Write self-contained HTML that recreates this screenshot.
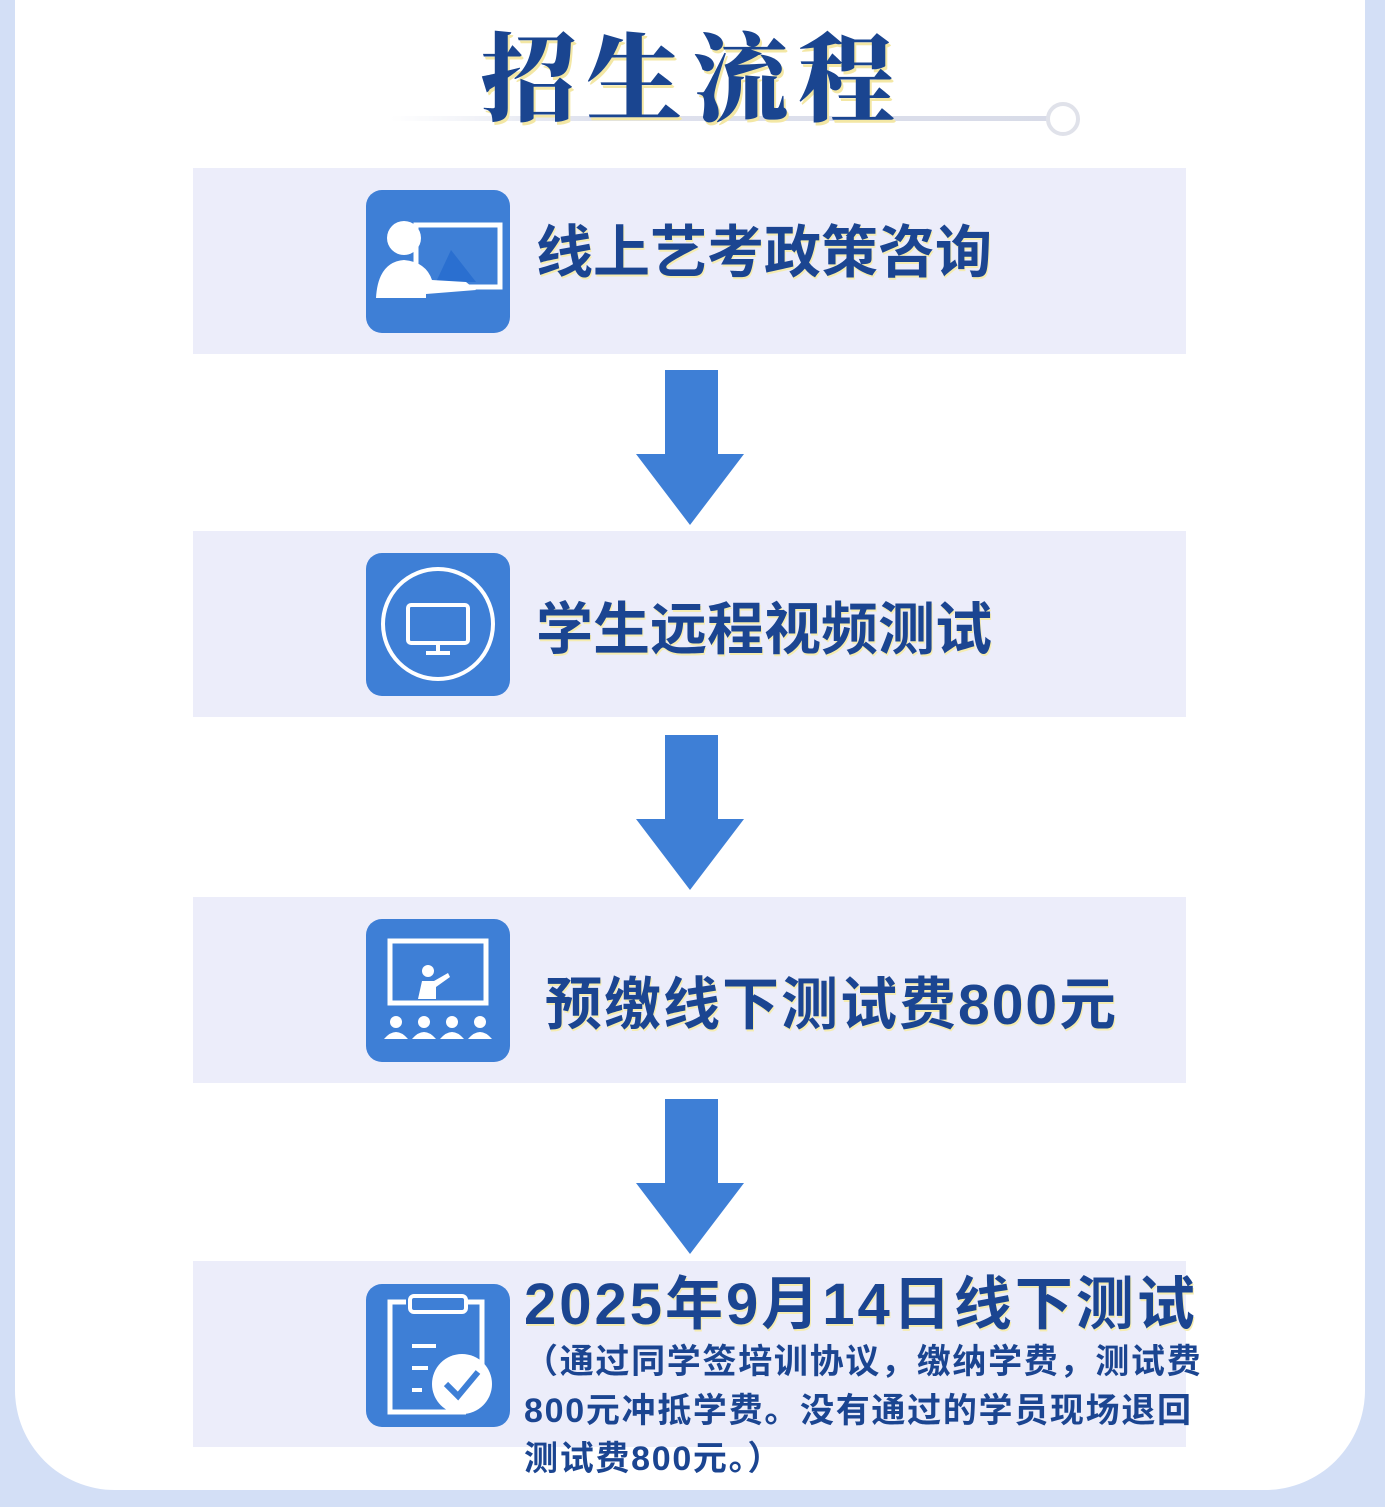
<!DOCTYPE html>
<html><head><meta charset="utf-8"><style>
body{margin:0;width:1385px;height:1507px;background:#d3dff6;position:relative;overflow:hidden;font-family:"Liberation Sans","Noto Sans CJK SC",sans-serif;}
.card{position:absolute;left:15px;top:-100px;width:1350px;height:1590px;background:#fff;border-radius:0 0 100px 100px;}
.box{position:absolute;left:193px;width:993px;height:186px;background:#ecedfa;}
.ic{position:absolute;left:366px;width:144px;height:143px;background:#3e7fd6;border-radius:16px;}
.t{position:absolute;color:#1b4591;font-weight:bold;font-size:57px;white-space:nowrap;text-shadow:1px 2px 0 #f5ecb0;}
.arr{position:absolute;left:636px;width:108px;height:155px;}
.title{position:absolute;left:0;width:1385px;top:4px;text-align:center;font-family:"Noto Serif CJK SC",serif;font-weight:900;font-size:96px;color:#1a4590;letter-spacing:10px;text-shadow:2px 3px 0 #f3e7a4;}
.sub{position:absolute;left:524px;top:1338px;width:720px;color:#1b4591;font-weight:bold;font-size:34px;line-height:48.5px;letter-spacing:1.7px;}
</style></head><body>
<div class="card"></div>
<div style="position:absolute;left:390px;top:116px;width:662px;height:5px;background:linear-gradient(90deg,#fff,#dfe2ee 30%,#d8dbe8);border-radius:3px"></div>
<div style="position:absolute;left:1046px;top:102px;width:26px;height:26px;border:4px solid #e0e2ea;border-radius:50%;background:#fff"></div>
<div class="title">招生流程</div>

<div class="box" style="top:168px"></div>
<div class="box" style="top:531px"></div>
<div class="box" style="top:897px"></div>
<div class="box" style="top:1261px"></div>

<div class="ic" style="top:190px">
<svg width="144" height="143" viewBox="0 0 144 143"><rect x="50" y="35" width="84" height="62" fill="none" stroke="#fff" stroke-width="5"/><path d="M85 60 L110 92 L70 92 Z" fill="#2a6fd0"/><circle cx="38" cy="48" r="17" fill="#fff"/><path d="M10 108 Q12 72 38 70 Q60 72 66 90 L100 92 L110 100 L60 104 L60 108 Z" fill="#fff"/></svg></div>
<div class="ic" style="top:553px">
<svg width="144" height="143" viewBox="0 0 144 143"><circle cx="72" cy="71" r="55" fill="none" stroke="#fff" stroke-width="4"/><rect x="42" y="52" width="60" height="38" rx="3" fill="none" stroke="#fff" stroke-width="4"/><path d="M72 90 V100 M60 100 H84" stroke="#fff" stroke-width="4"/></svg></div>
<div class="ic" style="top:919px">
<svg width="144" height="143" viewBox="0 0 144 143"><rect x="24" y="22" width="96" height="62" fill="none" stroke="#fff" stroke-width="5"/><circle cx="62" cy="52" r="6" fill="#fff"/><path d="M52 80 L56 62 L68 62 L82 54 L84 58 L70 68 L70 80Z" fill="#fff"/><g fill="#fff"><circle cx="30" cy="103" r="6"/><path d="M18 120 Q30 106 42 120Z"/><circle cx="58" cy="103" r="6"/><path d="M46 120 Q58 106 70 120Z"/><circle cx="86" cy="103" r="6"/><path d="M74 120 Q86 106 98 120Z"/><circle cx="114" cy="103" r="6"/><path d="M102 120 Q114 106 126 120Z"/></g></svg></div>
<div class="ic" style="top:1284px">
<svg width="144" height="143" viewBox="0 0 144 143"><path d="M40 18 H24 V128 H100 M116 95 V18 H100" fill="none" stroke="#fff" stroke-width="5"/><rect x="44" y="12" width="56" height="16" rx="4" fill="none" stroke="#fff" stroke-width="4"/><path d="M46 62 H70 M46 84 H62 M46 106 H56" stroke="#fff" stroke-width="4"/><circle cx="96" cy="100" r="30" fill="#fff"/><path d="M80 100 L92 112 L112 88" fill="none" stroke="#3e7fd6" stroke-width="6"/></svg></div>

<div class="t" style="left:536px;top:207px">线上艺考政策咨询</div>
<div class="t" style="left:536px;top:584px">学生远程视频测试</div>
<div class="t" style="left:545px;top:959px;letter-spacing:2px">预缴线下测试费800元</div>
<div class="t" style="left:524px;top:1257px;font-size:58px;letter-spacing:3px">2025年9月14日线下测试</div>
<div class="sub">（通过同学签培训协议，缴纳学费，测试费<br>800元冲抵学费。没有通过的学员现场退回<br>测试费800元。）</div>

<svg class="arr" style="top:370px" viewBox="0 0 108 155"><path d="M29 0 H82 V84 H108 L54 155 L0 84 H29 Z" fill="#3e7fd6"/></svg>
<svg class="arr" style="top:735px" viewBox="0 0 108 155"><path d="M29 0 H82 V84 H108 L54 155 L0 84 H29 Z" fill="#3e7fd6"/></svg>
<svg class="arr" style="top:1099px" viewBox="0 0 108 155"><path d="M29 0 H82 V84 H108 L54 155 L0 84 H29 Z" fill="#3e7fd6"/></svg>
</body></html>
